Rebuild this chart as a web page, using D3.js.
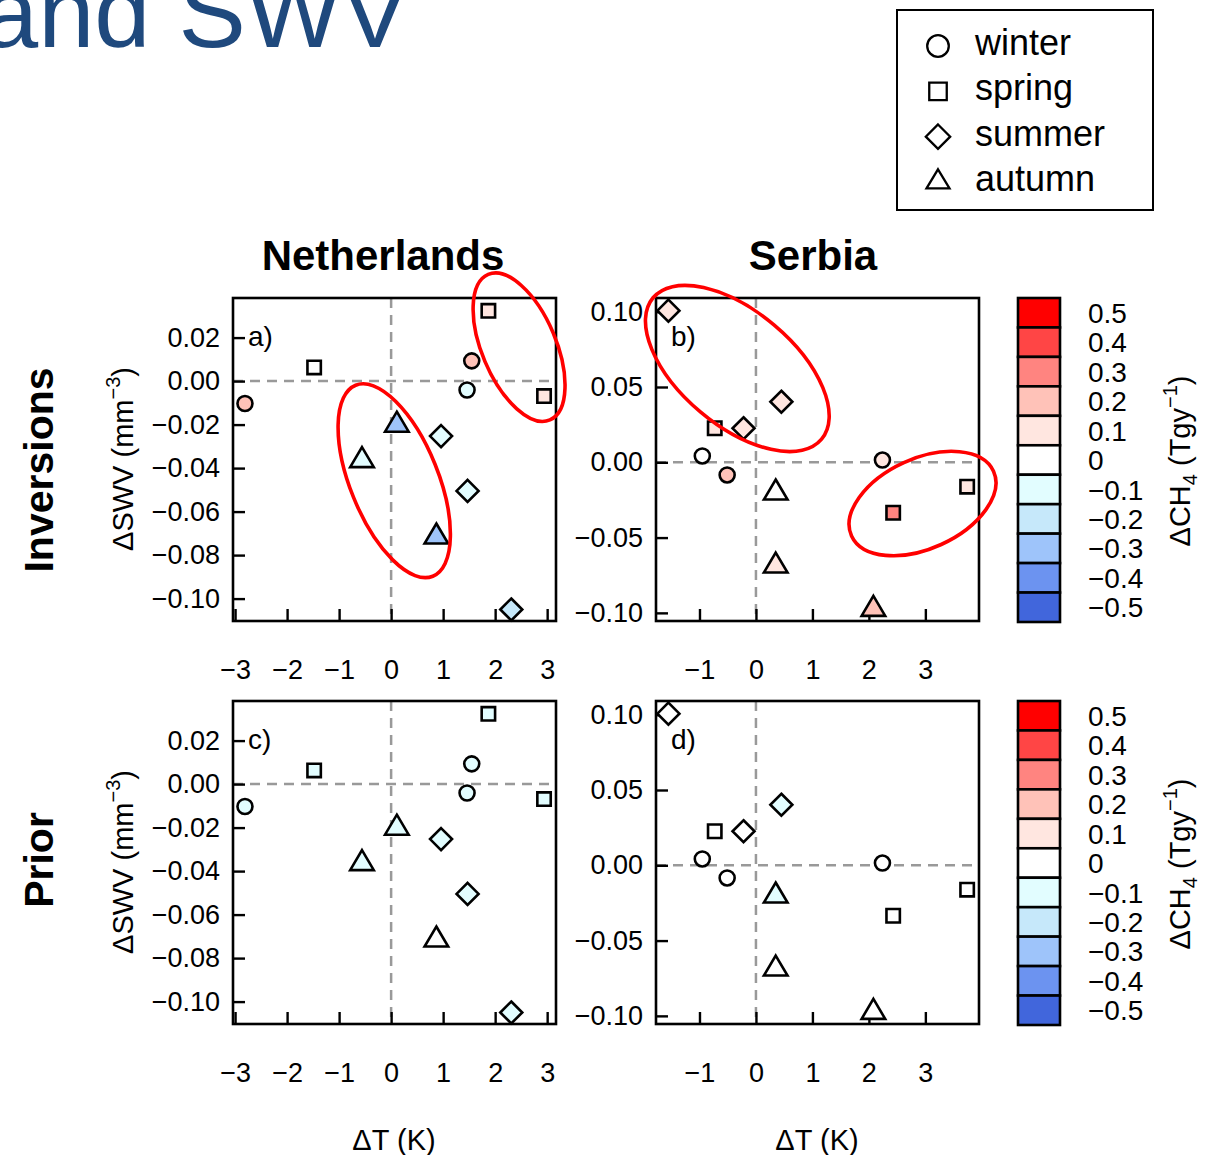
<!DOCTYPE html>
<html>
<head>
<meta charset="utf-8">
<script src="https://cdn.jsdelivr.net/npm/d3@7"></script>
<style>
  body { margin: 0; background: #fff; }
  text { font-family: "Liberation Sans", Arial, Helvetica, sans-serif; fill: #000; }
</style>
</head>
<body>
<div id="chart"></div>
<script>
// ---- data ----
var seasons = ["winter", "spring", "summer", "autumn"];
var pointSeason = ["winter", "winter", "winter", "spring", "spring", "spring",
                   "summer", "summer", "summer", "autumn", "autumn", "autumn"];

// Netherlands
var nlDT   = [1.55, 1.46, -2.81, 1.87, -1.48, 2.94, 0.96, 1.47, 2.31, 0.11, -0.56, 0.87];
var nlDSWV = [0.0093, -0.0041, -0.0103, 0.0323, 0.0063, -0.0069,
              -0.0253, -0.0505, -0.105, -0.0202, -0.0365, -0.0716];
var nlInvCH4   = [0.2, -0.1, 0.2, 0.1, 0, 0.1, -0.1, -0.1, -0.2, -0.3, -0.1, -0.3];
var nlPriorCH4 = [-0.1, -0.1, -0.1, -0.1, -0.1, -0.1, -0.1, -0.1, -0.1, -0.1, -0.1, 0];

// Serbia
var rsDT   = [-0.95, -0.51, 2.24, -0.73, 3.74, 2.43, -1.55, 0.45, -0.22, 0.35, 0.35, 2.08];
var rsDSWV = [0.0042, -0.0084, 0.0015, 0.0226, -0.0162, -0.0335,
              0.1007, 0.0402, 0.0226, -0.0203, -0.0688, -0.0976];
var rsInvCH4   = [0, 0.2, 0.1, 0.1, 0.1, 0.3, 0.1, 0.1, 0.1, 0, 0.1, 0.2];
var rsPriorCH4 = [0, 0, 0, 0, 0, 0, 0, -0.1, 0, -0.1, 0, 0];

// colour classes of delta CH4
var ch4Levels = [0.5, 0.4, 0.3, 0.2, 0.1, 0, -0.1, -0.2, -0.3, -0.4, -0.5];
var ch4Colors = ["#ff0000", "#ff4545", "#ff8480", "#ffc2b8", "#ffe6e0", "#ffffff",
                 "#e2fdff", "#c6e8fa", "#9ec4fa", "#6c93f0", "#4166dc"];

// axis ticks
var nlXTicks = [-3, -2, -1, 0, 1, 2, 3];
var nlYTicks = [0.02, 0, -0.02, -0.04, -0.06, -0.08, -0.10];
var rsXTicks = [-1, 0, 1, 2, 3];
var rsYTicks = [0.10, 0.05, 0, -0.05, -0.10];

// circled groups (centres in data units)
var nlRingDT = [2.46, 0.06];
var nlRingDSWV = [0.0156, -0.0458];
var rsRingDT = [-0.33, 2.95];
var rsRingDSWV = [0.0623, -0.0274];

// ---- drawing ----
var svg = d3.select("#chart").append("svg")
    .attr("width", 1207)
    .attr("height", 1155);

var W = 323, H = 323;
var fmtX = d3.format("d");

function ch4Color(v) {
    var i = ch4Levels.indexOf(Math.round(v * 10) / 10);
    return ch4Colors[i < 0 ? 5 : i];
}

function shapePath(season, d) {
    if (season == "winter") {
        return d3.symbol(d3.symbolCircle, Math.PI * d.r * d.r)();
    } else if (season == "spring") {
        return d3.symbol(d3.symbolSquare, d.side * d.side)();
    } else if (season == "summer") {
        return "M0," + (-d.half) + "L" + d.half + ",0L0," + d.half + "L" + (-d.half) + ",0Z";
    }
    return "M0," + (-d.th * 2 / 3) + "L" + d.tw + "," + (d.th / 3) +
           "L" + (-d.tw) + "," + (d.th / 3) + "Z";
}

var plotSym = {r: 7.5, side: 13.4, half: 11, tw: 11.8, th: 20};
var legendSym = {r: 10.8, side: 17.5, half: 12.2, tw: 11.5, th: 19};

function drawPanel(p) {
    var x = d3.scaleLinear().domain(p.xDom).range([p.left, p.left + W]);
    var y = d3.scaleLinear().domain(p.yDom).range([p.top + H, p.top]);
    var g = svg.append("g");

    // zero lines
    g.append("line")
        .attr("x1", x(0)).attr("x2", x(0))
        .attr("y1", p.top).attr("y2", p.top + H)
        .attr("stroke", "#999").attr("stroke-width", 2.5).attr("stroke-dasharray", "10,7");
    g.append("line")
        .attr("x1", p.left).attr("x2", p.left + W)
        .attr("y1", y(0)).attr("y2", y(0))
        .attr("stroke", "#999").attr("stroke-width", 2.5).attr("stroke-dasharray", "10,7");

    // frame
    g.append("rect")
        .attr("x", p.left).attr("y", p.top)
        .attr("width", W).attr("height", H)
        .attr("fill", "none").attr("stroke", "#000").attr("stroke-width", 2.6);

    // axes, ticks point inwards
    var ya = g.append("g")
        .attr("transform", "translate(" + p.left + ",0)")
        .call(d3.axisLeft(y).tickValues(p.yTicks).tickSize(-12).tickPadding(13)
                .tickFormat(d3.format(p.yFmt)));
    var xa = g.append("g")
        .attr("transform", "translate(0," + (p.top + H) + ")")
        .call(d3.axisBottom(x).tickValues(p.xTicks).tickSize(-12).tickPadding(39)
                .tickFormat(fmtX));
    [ya, xa].forEach(function(a) {
        a.select(".domain").remove();
        a.selectAll("line").attr("stroke", "#000").attr("stroke-width", 2.4);
        a.selectAll("text")
            .attr("font-size", 27)
            .attr("font-family", "Liberation Sans, Arial, sans-serif")
            .attr("fill", "#000");
    });

    // points
    g.selectAll("path.pt")
        .data(p.dT.map(function(v, i) { return i; }))
        .enter()
        .append("path")
        .attr("class", "pt")
        .attr("transform", function(i) {
            return "translate(" + x(p.dT[i]) + "," + y(p.dSWV[i]) + ")";
        })
        .attr("d", function(i) { return shapePath(pointSeason[i], plotSym); })
        .attr("fill", function(i) { return ch4Color(p.ch4[i]); })
        .attr("stroke", "#000")
        .attr("stroke-width", 2.6);

    // panel letter
    g.append("text")
        .attr("x", p.left + 15)
        .attr("y", p.top + 48)
        .attr("font-size", 28)
        .text(p.label);

    // red rings
    if (p.rings) {
        p.rings.forEach(function(r, i) {
            g.append("ellipse")
                .attr("rx", r.a).attr("ry", r.b)
                .attr("transform", "translate(" + x(p.ringDT[i]) + "," + y(p.ringDSWV[i]) +
                      ") rotate(" + r.angle + ")")
                .attr("fill", "none")
                .attr("stroke", "#ff0000")
                .attr("stroke-width", 3.6);
        });
    }
}

var nlX = [-3.04, 3.17], nlY = [-0.1103, 0.0382];
var rsX = [-1.77, 3.95], rsY = [-0.1054, 0.1091];

drawPanel({left: 233, top: 298, xDom: nlX, yDom: nlY, xTicks: nlXTicks, yTicks: nlYTicks,
           yFmt: ".2f", dT: nlDT, dSWV: nlDSWV, ch4: nlInvCH4, label: "a)",
           ringDT: nlRingDT, ringDSWV: nlRingDSWV,
           rings: [{a: 79, b: 37, angle: 67}, {a: 103, b: 44, angle: 68}]});
drawPanel({left: 656, top: 298, xDom: rsX, yDom: rsY, xTicks: rsXTicks, yTicks: rsYTicks,
           yFmt: ".2f", dT: rsDT, dSWV: rsDSWV, ch4: rsInvCH4, label: "b)",
           ringDT: rsRingDT, ringDSWV: rsRingDSWV,
           rings: [{a: 110, b: 57, angle: 40}, {a: 78, b: 45, angle: -24.5}]});
drawPanel({left: 233, top: 701, xDom: nlX, yDom: nlY, xTicks: nlXTicks, yTicks: nlYTicks,
           yFmt: ".2f", dT: nlDT, dSWV: nlDSWV, ch4: nlPriorCH4, label: "c)"});
drawPanel({left: 656, top: 701, xDom: rsX, yDom: rsY, xTicks: rsXTicks, yTicks: rsYTicks,
           yFmt: ".2f", dT: rsDT, dSWV: rsDSWV, ch4: rsPriorCH4, label: "d)"});

// colour bars
function drawColorbar(top) {
    var cy = d3.scaleBand().domain(ch4Levels).range([top, top + 324]);
    var g = svg.append("g");
    g.selectAll("rect")
        .data(ch4Levels)
        .enter()
        .append("rect")
        .attr("x", 1018)
        .attr("y", function(d) { return cy(d); })
        .attr("width", 42)
        .attr("height", cy.bandwidth())
        .attr("fill", function(d) { return ch4Color(d); })
        .attr("stroke", "#000")
        .attr("stroke-width", 2.6);
    g.selectAll("text")
        .data(ch4Levels)
        .enter()
        .append("text")
        .attr("x", 1088)
        .attr("y", function(d) { return cy(d) + cy.bandwidth() / 2; })
        .attr("dy", "0.36em")
        .attr("font-size", 28)
        .text(function(d) { return d == 0 ? "0" : d3.format(".1f")(d); });

    var t = g.append("text")
        .attr("transform", "translate(1190," + (top + 163) + ") rotate(-90)")
        .attr("text-anchor", "middle")
        .attr("font-size", 29);
    t.append("tspan").text("ΔCH");
    t.append("tspan").attr("font-size", 20).attr("dy", 7).text("4");
    t.append("tspan").attr("dy", -7).text(" (Tgy");
    t.append("tspan").attr("font-size", 20).attr("dy", -13).text("−1");
    t.append("tspan").attr("dy", 13).text(")");
}
drawColorbar(298);
drawColorbar(701);

// y axis titles and row labels
[459, 862].forEach(function(cyv, i) {
    var t = svg.append("text")
        .attr("transform", "translate(133," + cyv + ") rotate(-90)")
        .attr("text-anchor", "middle")
        .attr("font-size", 29);
    t.append("tspan").text("ΔSWV (mm");
    t.append("tspan").attr("font-size", 20).attr("dy", -13).text("−3");
    t.append("tspan").attr("dy", 13).text(")");

    svg.append("text")
        .attr("transform", "translate(53," + (i == 0 ? 470 : 860) + ") rotate(-90)")
        .attr("text-anchor", "middle")
        .attr("font-size", 41)
        .attr("font-weight", "bold")
        .text(i == 0 ? "Inversions" : "Prior");
});

// x axis titles
[394, 817].forEach(function(cx) {
    svg.append("text")
        .attr("x", cx).attr("y", 1150)
        .attr("text-anchor", "middle")
        .attr("font-size", 29)
        .text("ΔT (K)");
});

// column titles
svg.append("text").attr("x", 383).attr("y", 270).attr("text-anchor", "middle")
    .attr("font-size", 42).attr("font-weight", "bold").text("Netherlands");
svg.append("text").attr("x", 813).attr("y", 270).attr("text-anchor", "middle")
    .attr("font-size", 42).attr("font-weight", "bold").text("Serbia");

// legend
var leg = svg.append("g");
leg.append("rect")
    .attr("x", 897).attr("y", 10).attr("width", 256).attr("height", 200)
    .attr("fill", "#fff").attr("stroke", "#000").attr("stroke-width", 2);
var legY = d3.scalePoint().domain(seasons).range([55, 191]);
seasons.forEach(function(s) {
    leg.append("path")
        .attr("transform", "translate(938," + (legY(s) - 9) + ")")
        .attr("d", shapePath(s, legendSym))
        .attr("fill", "none")
        .attr("stroke", "#000")
        .attr("stroke-width", 2.3);
    leg.append("text")
        .attr("x", 975).attr("y", legY(s))
        .attr("font-size", 36)
        .text(s);
});

// slide title fragment at the top (cut off by the page edge, as in the source)
svg.append("text")
    .attr("x", -18).attr("y", 47)
    .attr("font-size", 101)
    .style("fill", "#1f497d")
    .text("and SWV");
</script>
</body>
</html>
